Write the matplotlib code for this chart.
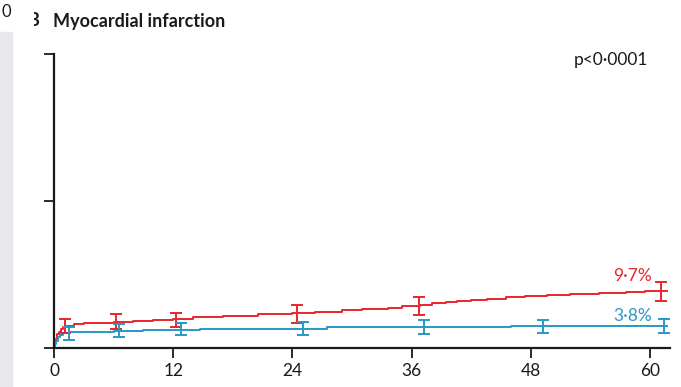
import matplotlib.pyplot as plt
import matplotlib.patches as patches
from matplotlib.transforms import Bbox

plt.rcParams['font.family'] = ['Lato', 'DejaVu Sans']

# cumulative incidence of myocardial infarction (%), step curves
red_t = [0, 0.1, 0.2, 0.35, 0.5, 0.7, 0.9, 1.3, 2, 3, 4.5, 6, 8, 10, 12, 14, 17,
         20.5, 24, 26.3, 29, 31, 33.6, 35, 36.8, 38, 39.5, 40.6, 42, 43.6, 45.5,
         47.4, 49.6, 51.9, 54.9, 56.5, 57.6, 59.5, 61.7]
red_v = [0, 0.8, 1.6, 2.3, 2.8, 3.2, 3.5, 3.8, 4.0, 4.2, 4.3, 4.4, 4.6, 4.8, 5.0,
         5.3, 5.5, 5.7, 5.9, 6.1, 6.5, 6.6, 6.8, 7.1, 7.3, 7.6, 7.8, 8.0, 8.2, 8.4,
         8.6, 8.8, 9.0, 9.1, 9.3, 9.4, 9.6, 9.7, 9.7]
blue_t = [0, 0.1, 0.25, 0.4, 0.6, 0.9, 1.5, 3, 6, 9, 12, 14.7, 27.5, 33, 46, 61.7]
blue_v = [0, 0.6, 1.2, 1.8, 2.2, 2.5, 2.7, 2.8, 2.9, 3.0, 3.1, 3.3, 3.5, 3.6, 3.8, 3.8]

# confidence interval bars
red_ci_t = [1.1, 6.2, 12.3, 24.5, 36.7, 61.1]
red_ci_lo = [2.5, 3.3, 3.6, 4.3, 5.6, 8.0]
red_ci_hi = [5.0, 5.7, 6.0, 7.3, 8.6, 11.3]
blue_ci_t = [1.5, 6.5, 12.8, 25.1, 37.2, 49.2, 61.4]
blue_ci_lo = [1.3, 1.9, 2.2, 2.2, 2.4, 2.6, 2.6]
blue_ci_hi = [3.5, 4.1, 4.3, 4.4, 4.7, 4.8, 4.9]

x_ticks = [0, 12, 24, 36, 48, 60]
y_ticks = [0, 25, 50]

RED = '#e8262b'
BLUE = '#2a98c4'
INK = '#1a1a1a'

fig = plt.figure(figsize=(6.81, 3.87), dpi=100)
ax = fig.add_axes([54 / 681, 39 / 387, 616 / 681, 294 / 387])

ax.step(red_t, red_v, where='post', color=RED, lw=1.4)
ax.step(blue_t, blue_v, where='post', color=BLUE, lw=1.4)

for t, lo, hi, c in [(red_ci_t, red_ci_lo, red_ci_hi, RED),
                     (blue_ci_t, blue_ci_lo, blue_ci_hi, BLUE)]:
    mid = [(a + b) / 2 for a, b in zip(lo, hi)]
    err = [[m - a for m, a in zip(mid, lo)], [b - m for m, b in zip(mid, hi)]]
    ax.errorbar(t, mid, yerr=err, fmt='none', ecolor=c, elinewidth=1.4,
                capsize=4.5, capthick=1.4)

ax.set_xlim(0, 62)
ax.set_ylim(0, 50)
ax.set_xticks(x_ticks)
ax.set_yticks(y_ticks)
ax.set_yticklabels([])
ax.tick_params(axis='both', direction='out', length=7.5, width=1.3, color=INK)
ax.tick_params(axis='x', labelsize=12.5, pad=3, labelcolor=INK)
for s in ['top', 'right']:
    ax.spines[s].set_visible(False)
for s in ['left', 'bottom']:
    ax.spines[s].set_linewidth(1.6)
    ax.spines[s].set_color(INK)

ax.text(60.2, 12.3, '9·7%', color=RED, fontsize=12.5, ha='right', va='center')
ax.text(60.2, 5.4, '3·8%', color=BLUE, fontsize=12.5, ha='right', va='center')
ax.text(59.8, 49, 'p<0·0001', color=INK, fontsize=12.5, ha='right', va='center')

fig.text(53 / 681, 1 - 21 / 387, 'Myocardial infarction', fontsize=13,
         fontweight='bold', color=INK, va='center', ha='left')
# panel letter, only its right part shows in the crop
b = fig.text(39 / 681, 1 - 20 / 387, 'B', fontsize=13, fontweight='bold',
             color=INK, va='center', ha='right')
b.set_clip_box(Bbox.from_extents(34, 0, 681, 387))
b.set_clip_on(True)
fig.text(1 / 681, 1 - 12 / 387, '0', fontsize=12, color=INK,
         va='center', ha='left')
fig.patches.append(patches.Rectangle((0, 0), 12 / 681, 1 - 32 / 387,
                                     transform=fig.transFigure,
                                     color='#e7e9ed', zorder=0))

fig.savefig('out.png', dpi=100)
